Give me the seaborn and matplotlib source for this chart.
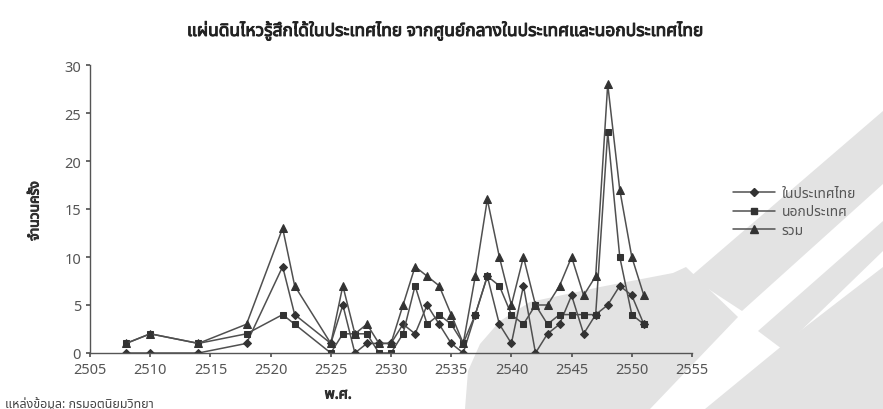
import matplotlib
matplotlib.use("Agg")
import matplotlib.pyplot as plt
import matplotlib.patheffects as pe
from matplotlib.patches import Polygon
from matplotlib.lines import Line2D
import seaborn as sns
import pandas as pd

# ---- data ----
years = [2508, 2510, 2514, 2518, 2521, 2522, 2525, 2526, 2527, 2528, 2529, 2530,
         2531, 2532, 2533, 2534, 2535, 2536, 2537, 2538, 2539, 2540, 2541, 2542,
         2543, 2544, 2545, 2546, 2547, 2548, 2549, 2550, 2551]
inside = [0, 0, 0, 1, 9, 4, 1, 5, 0, 1, 1, 1,
          3, 2, 5, 3, 1, 0, 4, 8, 3, 1, 7, 0,
          2, 3, 6, 2, 4, 5, 7, 6, 3]
outside = [1, 2, 1, 2, 4, 3, 0, 2, 2, 2, 0, 0,
           2, 7, 3, 4, 3, 1, 4, 8, 7, 4, 3, 5,
           3, 4, 4, 4, 4, 23, 10, 4, 3]
total = [1, 2, 1, 3, 13, 7, 1, 7, 2, 3, 1, 1,
         5, 9, 8, 7, 4, 1, 8, 16, 10, 5, 10, 5,
         5, 7, 10, 6, 8, 28, 17, 10, 6]
series_names = ["ในประเทศไทย", "นอกประเทศ", "รวม"]
x_ticks = [2505, 2510, 2515, 2520, 2525, 2530, 2535, 2540, 2545, 2550, 2555]
y_ticks = [0, 5, 10, 15, 20, 25, 30]

title = "แผ่นดินไหวรู้สึกได้ในประเทศไทย จากศูนย์กลางในประเทศและนอกประเทศไทย"
ylabel = "จำนวนครั้ง"
xlabel = "พ.ศ."
source = "แหล่งข้อมูล: กรมอุตุนิยมวิทยา"

df = pd.concat([
    pd.DataFrame({"year": years, "count": inside, "series": series_names[0]}),
    pd.DataFrame({"year": years, "count": outside, "series": series_names[1]}),
    pd.DataFrame({"year": years, "count": total, "series": series_names[2]}),
], ignore_index=True)

sns.set_theme(style="white")
plt.rcParams["font.family"] = ["Noto Sans Thai", "Noto Sans Thai UI", "Loma", "Garuda",
                               "Tlwg Typo", "Norasi", "Waree", "Sarabun",
                               "Noto Sans", "DejaVu Sans"]

W, H = 883, 410
fig = plt.figure(figsize=(W / 100, H / 100), dpi=100)
fig.patch.set_facecolor("white")

# light grey watermark shapes in the background (figure pixel coords)
def fig_poly(pts, color="#e3e3e3"):
    p = Polygon([(x / W, 1 - y / H) for x, y in pts], closed=True,
                transform=fig.transFigure, facecolor=color, edgecolor="none", zorder=-10)
    fig.patches.append(p)

fig_poly([(465, 410), (468, 372), (480, 345), (500, 322), (530, 303), (600, 288),
          (673, 274), (686, 268), (738, 318), (650, 410)])
fig_poly([(705, 410), (800, 332), (883, 268), (883, 410)])
fig_poly([(690, 278), (883, 112), (883, 185), (742, 312)])
fig_poly([(758, 332), (883, 222), (883, 252), (782, 350)])

ax = fig.add_axes([90 / W, 1 - 354 / H, (692 - 90) / W, (354 - 66) / H])
ax.set_facecolor("none")

markers = {series_names[0]: "D", series_names[1]: "s", series_names[2]: "^"}
msizes = {series_names[0]: 4.0, series_names[1]: 4.8, series_names[2]: 5.2}
for name in series_names:
    sns.lineplot(data=df[df["series"] == name], x="year", y="count",
                 color="#505050", marker=markers[name], markersize=msizes[name],
                 markeredgecolor="#333333", markerfacecolor="#333333",
                 linewidth=1.1, legend=False, ax=ax, sort=False)

ax.set_xlim(2505, 2555)
ax.set_ylim(0, 30)
ax.set_xticks(x_ticks)
ax.set_yticks(y_ticks)
ax.tick_params(axis="both", labelsize=10.5, colors="#555555", length=3, direction="out",
               left=True, bottom=True)
for s in ["top", "right"]:
    ax.spines[s].set_visible(False)
for s in ["left", "bottom"]:
    ax.spines[s].set_color("#555555")
    ax.spines[s].set_linewidth(1.0)
ax.set_xlabel("")
ax.set_ylabel("")

bold = [pe.withStroke(linewidth=0.7, foreground="#222222")]
fig.text(445 / W, 1 - 32 / H, title, ha="center", va="center", fontsize=12.5,
         fontweight="bold", color="#222222", path_effects=bold)
fig.text(35 / W, 1 - 212 / H, ylabel, ha="center", va="center", rotation=90,
         fontsize=10, fontweight="bold", color="#333333", path_effects=bold)
fig.text(338 / W, 1 - 396 / H, xlabel, ha="center", va="center", fontsize=10.5,
         fontweight="bold", color="#333333", path_effects=bold)
fig.text(5 / W, 1 - 404 / H, source, ha="left", va="center", fontsize=9,
         color="#444444")

handles = [Line2D([0], [0], color="#505050", lw=1.1, marker=markers[n],
                  markersize=msizes[n],
                  markerfacecolor="#333333", markeredgecolor="#333333")
           for n in series_names]
fig.legend(handles, series_names, loc="upper left",
           bbox_to_anchor=(733 / W, 1 - 187 / H), frameon=False, fontsize=10,
           handlelength=3.0, labelspacing=0.25, labelcolor="#555555",
           borderaxespad=0, borderpad=0, handletextpad=0.5)

fig.savefig("out.png", dpi=100)
